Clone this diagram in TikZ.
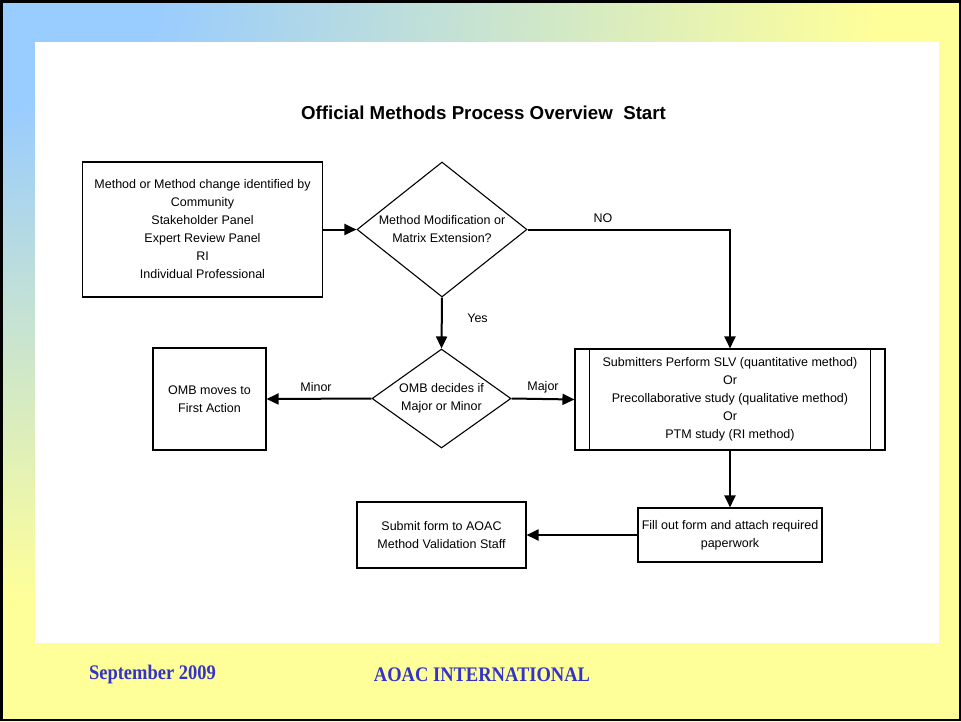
\documentclass[tikz,border=0pt]{standalone}
\usepackage{fontspec}
\setmainfont{Liberation Sans}
\newfontfamily\footfont{Liberation Serif}
\usetikzlibrary{shapes.geometric,arrows.meta}
\definecolor{bgblue}{HTML}{99CCFF}
\definecolor{bgyellow}{HTML}{FFFF99}
\definecolor{footblue}{HTML}{3333CC}
\pgfdeclareradialshading{slidebg}{\pgfpoint{0bp}{0bp}}{color(0bp)=(bgblue);color(3.5bp)=(bgblue);color(20bp)=(bgyellow);color(100bp)=(bgyellow)}
\newcommand\bxf{\fontsize{12.5}{18}\selectfont}
\begin{document}
\begin{tikzpicture}[x=1pt,y=-1pt,
  box/.style={draw,line width=1.1pt,align=center,font=\bxf,inner sep=0pt},
  dia/.style={diamond,draw,line width=1.1pt,align=center,font=\bxf,inner sep=0pt,aspect=1.3},
  lbl/.style={font=\bxf,inner sep=0pt},
  arr/.style={line width=2pt,-{Triangle[length=12pt,width=11pt]}},
  foot/.style={font=\footfont\bfseries\fontsize{18.5}{20}\selectfont,text=footblue,inner sep=0pt}]
\useasboundingbox (0,0) rectangle (961,721);
% background
\begin{scope}
  \clip (0,0) rectangle (961,721);
  \shade[shading=slidebg] (-1100,-750) rectangle (1100,750);
\end{scope}
\fill[white] (35,42) rectangle (939,643);
\draw[line width=2.5pt] (1.25,1.25) rectangle (959.75,719.75);
% title
\node[font=\bfseries\fontsize{18.7}{22}\selectfont,inner sep=0pt] (title) at (483.5,113) {Official Methods Process Overview\ \ Start};
% nodes
\node[box,minimum width=240,minimum height=135] (src) at (202.5,229.5)
  {Method or Method change identified by\\Community\\Stakeholder Panel\\Expert Review Panel\\RI\\Individual Professional};
\node[dia,minimum width=170,minimum height=135] (d1) at (442,229.5) {Method Modification or\\Matrix Extension?};
\node[dia,minimum width=139,minimum height=99,aspect=1.4] (d2) at (441.5,398.5) {OMB decides if\\Major or Minor};
\node[box,minimum width=113,minimum height=102] (omb) at (209.5,399) {OMB moves to\\First Action};
\node[box,minimum width=310,minimum height=101] (slv) at (730,399.5)
  {Submitters Perform SLV (quantitative method)\\Or\\Precollaborative study (qualitative method)\\Or\\PTM study (RI method)};
\draw[line width=1.1pt] ([xshift=15pt]slv.north west) -- ([xshift=15pt]slv.south west);
\draw[line width=1.1pt] ([xshift=-15pt]slv.north east) -- ([xshift=-15pt]slv.south east);
\node[box,minimum width=184,minimum height=54] (fill) at (730,535) {Fill out form and attach required\\paperwork};
\node[box,minimum width=169,minimum height=66] (submit) at (441.5,535) {Submit form to AOAC\\Method Validation Staff};
% connectors
\draw[arr] (src.east) -- (d1.west);
\draw[arr] (d1.east) -| (slv.north);
\draw[arr] (d1.south) -- (d2.north);
\draw[arr] (d2.west) -- (omb.east);
\draw[arr] (d2.east) -- (slv.west);
\draw[arr] (slv.south) -- (fill.north);
\draw[arr] (fill.west) -- (submit.east);
% labels
\node[lbl] (lno) at (603,218) {NO};
\node[lbl] (lyes) at (477.5,318) {Yes};
\node[lbl] (lminor) at (316,387) {Minor};
\node[lbl] (lmajor) at (543,387) {Major};
% footer
\node[foot] (date) at (152.5,675) {\scalebox{1}[1.12]{September 2009}};
\node[foot] (org) at (482,675) {\scalebox{1}[1.12]{AOAC INTERNATIONAL}};
\end{tikzpicture}
\end{document}
